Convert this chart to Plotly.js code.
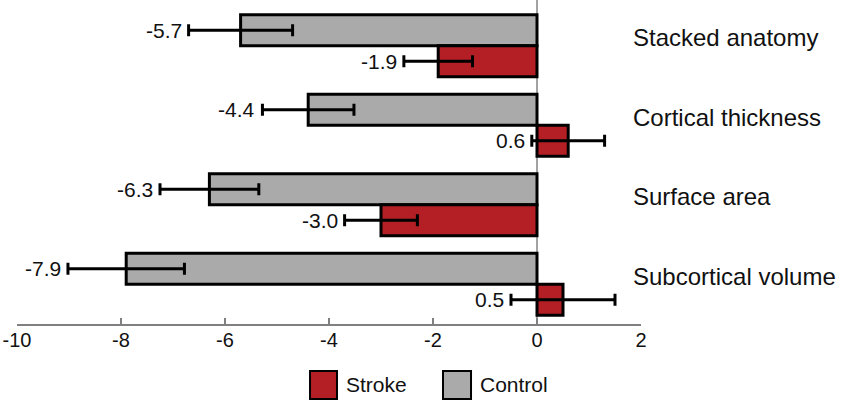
<!DOCTYPE html>
<html>
<head>
<meta charset="utf-8">
<script src="https://cdn.plot.ly/plotly-3.0.1.min.js"></script>
<style>
  html, body { margin: 0; padding: 0; background: #fff; }
  #chart { width: 850px; height: 405px; }
</style>
</head>
<body>
<div id="chart"></div>
<script>
'use strict';

// ---- data ----
var categories = ['Stacked anatomy', 'Cortical thickness', 'Surface area', 'Subcortical volume'];
var controlVals = [-5.7, -4.4, -6.3, -7.9];
var controlErr = [1.0, 0.88, 0.95, 1.12];
var strokeVals = [-1.9, 0.6, -3.0, 0.5];
var strokeErr = [0.66, 0.7, 0.7, 1.0];
var xTicks = [-10, -8, -6, -4, -2, 0, 2];
var xTickText = ['-10', '-8', '-6', '-4', '-2', '0', '2'];

var RED = '#b31f24';
var GRAY = '#aaaaaa';
var FONT = 'Liberation Sans, Arial, sans-serif';

function barTrace(name, vals, errs, color) {
	return {
		type: 'bar',
		orientation: 'h',
		name: name,
		x: vals,
		y: categories,
		marker: { color: color, line: { color: '#000', width: 3 } },
		error_x: { type: 'data', array: errs, visible: true, color: '#000', thickness: 3, width: 6 },
		hoverinfo: 'x+y'
	};
}

// control first -> sits on top in each group (axis reversed)
var data = [
	barTrace('Control', controlVals, controlErr, GRAY),
	barTrace('Stroke', strokeVals, strokeErr, RED)
];

var annotations = [];
var half = 0.195; // half of a bar slot inside a group

// value labels, left of the lower end of the error bar
function addValueLabels(vals, errs, off) {
	for (var i = 0; i < vals.length; i++) {
		annotations.push({
			x: vals[i] - errs[i], y: i + off,
			xref: 'x', yref: 'y',
			text: vals[i].toFixed(1),
			showarrow: false,
			xanchor: 'right', yanchor: 'middle',
			xshift: -5,
			font: { family: FONT, size: 21, color: '#111' }
		});
	}
}
addValueLabels(controlVals, controlErr, -half);
addValueLabels(strokeVals, strokeErr, half);

// category names on the right
categories.forEach(function(c, i) {
	annotations.push({
		x: 0.984, y: i, xref: 'paper', yref: 'y',
		text: c, showarrow: false,
		xanchor: 'left', yanchor: 'middle', yshift: 8,
		font: { family: FONT, size: 24, color: '#111' }
	});
});

// hand-made legend (large square swatches)
var shapes = [
	{ type: 'line', xref: 'x', yref: 'paper', x0: 0, x1: 0, y0: 0, y1: 1.02,
	  line: { color: '#444', width: 1 }, layer: 'below' },
	{ type: 'rect', xref: 'paper', yref: 'paper', x0: 0.4696, x1: 0.5128, y0: -0.2356, y1: -0.1476,
	  fillcolor: RED, line: { color: '#000', width: 2 } },
	{ type: 'rect', xref: 'paper', yref: 'paper', x0: 0.6827, x1: 0.7276, y0: -0.2356, y1: -0.1476,
	  fillcolor: GRAY, line: { color: '#000', width: 2 } }
];
annotations.push({
	x: 0.5240, y: -0.1916, xref: 'paper', yref: 'paper', text: 'Stroke',
	showarrow: false, xanchor: 'left', yanchor: 'middle',
	font: { family: FONT, size: 21, color: '#111' }
});
annotations.push({
	x: 0.7390, y: -0.1916, xref: 'paper', yref: 'paper', text: 'Control',
	showarrow: false, xanchor: 'left', yanchor: 'middle',
	font: { family: FONT, size: 21, color: '#111' }
});

var layout = {
	width: 850,
	height: 405,
	margin: { l: 17, r: 209, t: 6, b: 81 },
	paper_bgcolor: '#fff',
	plot_bgcolor: '#fff',
	showlegend: false,
	barmode: 'group',
	bargap: 0.22,
	bargroupgap: 0,
	font: { family: FONT, color: '#111' },
	xaxis: {
		range: [-10, 2],
		tickmode: 'array',
		tickvals: xTicks,
		ticktext: xTickText,
		ticks: 'inside',
		ticklen: 6,
		tickwidth: 1.5,
		tickcolor: '#808080',
		ticklabelstandoff: -3,
		showline: true,
		linecolor: '#808080',
		linewidth: 2,
		showgrid: false,
		zeroline: false,
		tickfont: { family: FONT, size: 20, color: '#111' }
	},
	yaxis: {
		type: 'category',
		categoryorder: 'array',
		categoryarray: categories,
		range: [3.5, -0.5],
		showticklabels: false,
		showgrid: false,
		zeroline: false,
		showline: false,
		ticks: ''
	},
	shapes: shapes,
	annotations: annotations
};

Plotly.newPlot('chart', data, layout, { displayModeBar: false, staticPlot: true });
</script>
</body>
</html>
